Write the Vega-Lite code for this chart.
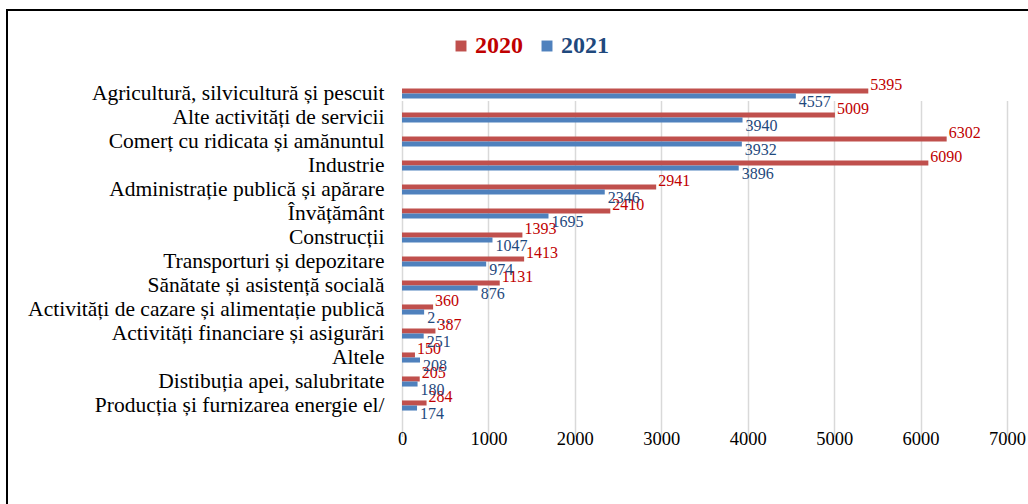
{
  "$schema": "https://vega.github.io/schema/vega-lite/v6.json",
  "width": 1028,
  "height": 504,
  "autosize": {"type": "fit", "contains": "padding"},
  "padding": {"left": 7, "top": 10, "right": -4, "bottom": -4},
  "background": "white",
  "config": {
    "view": {"stroke": "black", "strokeWidth": 2},
    "font": "Liberation Serif"
  },
  "data": {
    "values": [
      {"sector": "Agricultură, silvicultură și pescuit", "year": "2020", "value": 5395, "label": "5395"},
      {"sector": "Agricultură, silvicultură și pescuit", "year": "2021", "value": 4557, "label": "4557"},
      {"sector": "Alte activități de servicii", "year": "2020", "value": 5009, "label": "5009"},
      {"sector": "Alte activități de servicii", "year": "2021", "value": 3940, "label": "3940"},
      {"sector": "Comerț cu ridicata și amănuntul", "year": "2020", "value": 6302, "label": "6302"},
      {"sector": "Comerț cu ridicata și amănuntul", "year": "2021", "value": 3932, "label": "3932"},
      {"sector": "Industrie", "year": "2020", "value": 6090, "label": "6090"},
      {"sector": "Industrie", "year": "2021", "value": 3896, "label": "3896"},
      {"sector": "Administrație publică și apărare", "year": "2020", "value": 2941, "label": "2941"},
      {"sector": "Administrație publică și apărare", "year": "2021", "value": 2346, "label": "2346"},
      {"sector": "Învățământ", "year": "2020", "value": 2410, "label": "2410"},
      {"sector": "Învățământ", "year": "2021", "value": 1695, "label": "1695"},
      {"sector": "Construcții", "year": "2020", "value": 1393, "label": "1393"},
      {"sector": "Construcții", "year": "2021", "value": 1047, "label": "1047"},
      {"sector": "Transporturi și depozitare", "year": "2020", "value": 1413, "label": "1413"},
      {"sector": "Transporturi și depozitare", "year": "2021", "value": 974, "label": "974"},
      {"sector": "Sănătate și asistență socială", "year": "2020", "value": 1131, "label": "1131"},
      {"sector": "Sănătate și asistență socială", "year": "2021", "value": 876, "label": "876"},
      {"sector": "Activități de cazare și alimentație publică", "year": "2020", "value": 360, "label": "360"},
      {"sector": "Activități de cazare și alimentație publică", "year": "2021", "value": 256, "label": "2…"},
      {"sector": "Activități financiare și asigurări", "year": "2020", "value": 387, "label": "387"},
      {"sector": "Activități financiare și asigurări", "year": "2021", "value": 251, "label": "251"},
      {"sector": "Altele", "year": "2020", "value": 150, "label": "150"},
      {"sector": "Altele", "year": "2021", "value": 208, "label": "208"},
      {"sector": "Distibuția apei, salubritate", "year": "2020", "value": 205, "label": "205"},
      {"sector": "Distibuția apei, salubritate", "year": "2021", "value": 180, "label": "180"},
      {"sector": "Producția și furnizarea energie el/", "year": "2020", "value": 284, "label": "284"},
      {"sector": "Producția și furnizarea energie el/", "year": "2021", "value": 174, "label": "174"}
    ]
  },
  "encoding": {
    "y": {
      "field": "sector",
      "type": "nominal",
      "sort": null,
      "title": null,
      "scale": {"range": [71.5, 407.5], "paddingInner": 0.58, "paddingOuter": 0.29},
      "axis": {
        "offset": -395,
        "labelPadding": 18,
        "ticks": false,
        "domain": false,
        "grid": false,
        "labelFont": "Liberation Serif",
        "labelFontSize": 21.5,
        "labelColor": "black",
        "labelLimit": 600
      }
    },
    "x": {
      "field": "value",
      "type": "quantitative",
      "title": null,
      "scale": {"domain": [0, 7000], "range": [395, 1000], "nice": false},
      "axis": {
        "values": [0, 1000, 2000, 3000, 4000, 5000, 6000, 7000],
        "format": "d",
        "offset": -93,
        "labelPadding": 14,
        "labelFlush": false,
        "ticks": false,
        "domain": false,
        "grid": true,
        "gridColor": "#d9d9d9",
        "gridWidth": 1.5,
        "labelFont": "Liberation Serif",
        "labelFontSize": 18.5,
        "labelColor": "black"
      }
    },
    "yOffset": {"field": "year", "type": "nominal", "scale": {"paddingInner": 0, "paddingOuter": 0}}
  },
  "layer": [
    {
      "mark": {"type": "bar"},
      "encoding": {
        "color": {
          "field": "year",
          "type": "nominal",
          "scale": {"domain": ["2020", "2021"], "range": ["#C0504D", "#4F81BD"]},
          "legend": {
            "orient": "none",
            "legendX": 442,
            "legendY": 24,
            "direction": "horizontal",
            "title": null,
            "padding": 0,
            "labelFont": "Liberation Serif",
            "labelFontSize": 24,
            "labelFontWeight": "bold",
            "labelColor": {"expr": "datum.label == '2020' ? '#C00000' : '#1F497D'"},
            "symbolType": "square",
            "symbolSize": 120,
            "symbolStrokeWidth": 0,
            "labelOffset": 2,
            "columnPadding": 12
          }
        }
      }
    },
    {
      "transform": [{"filter": "datum.year == '2020'"}],
      "mark": {"type": "text", "align": "left", "baseline": "middle", "dx": 2, "dy": -6, "fontSize": 16, "color": "#C00000", "font": "Liberation Serif"},
      "encoding": {"text": {"field": "label"}}
    },
    {
      "transform": [{"filter": "datum.year == '2021'"}],
      "mark": {"type": "text", "align": "left", "baseline": "middle", "dx": 3, "dy": 6, "fontSize": 16, "color": "#1F497D", "font": "Liberation Serif"},
      "encoding": {"text": {"field": "label"}}
    }
  ]
}
